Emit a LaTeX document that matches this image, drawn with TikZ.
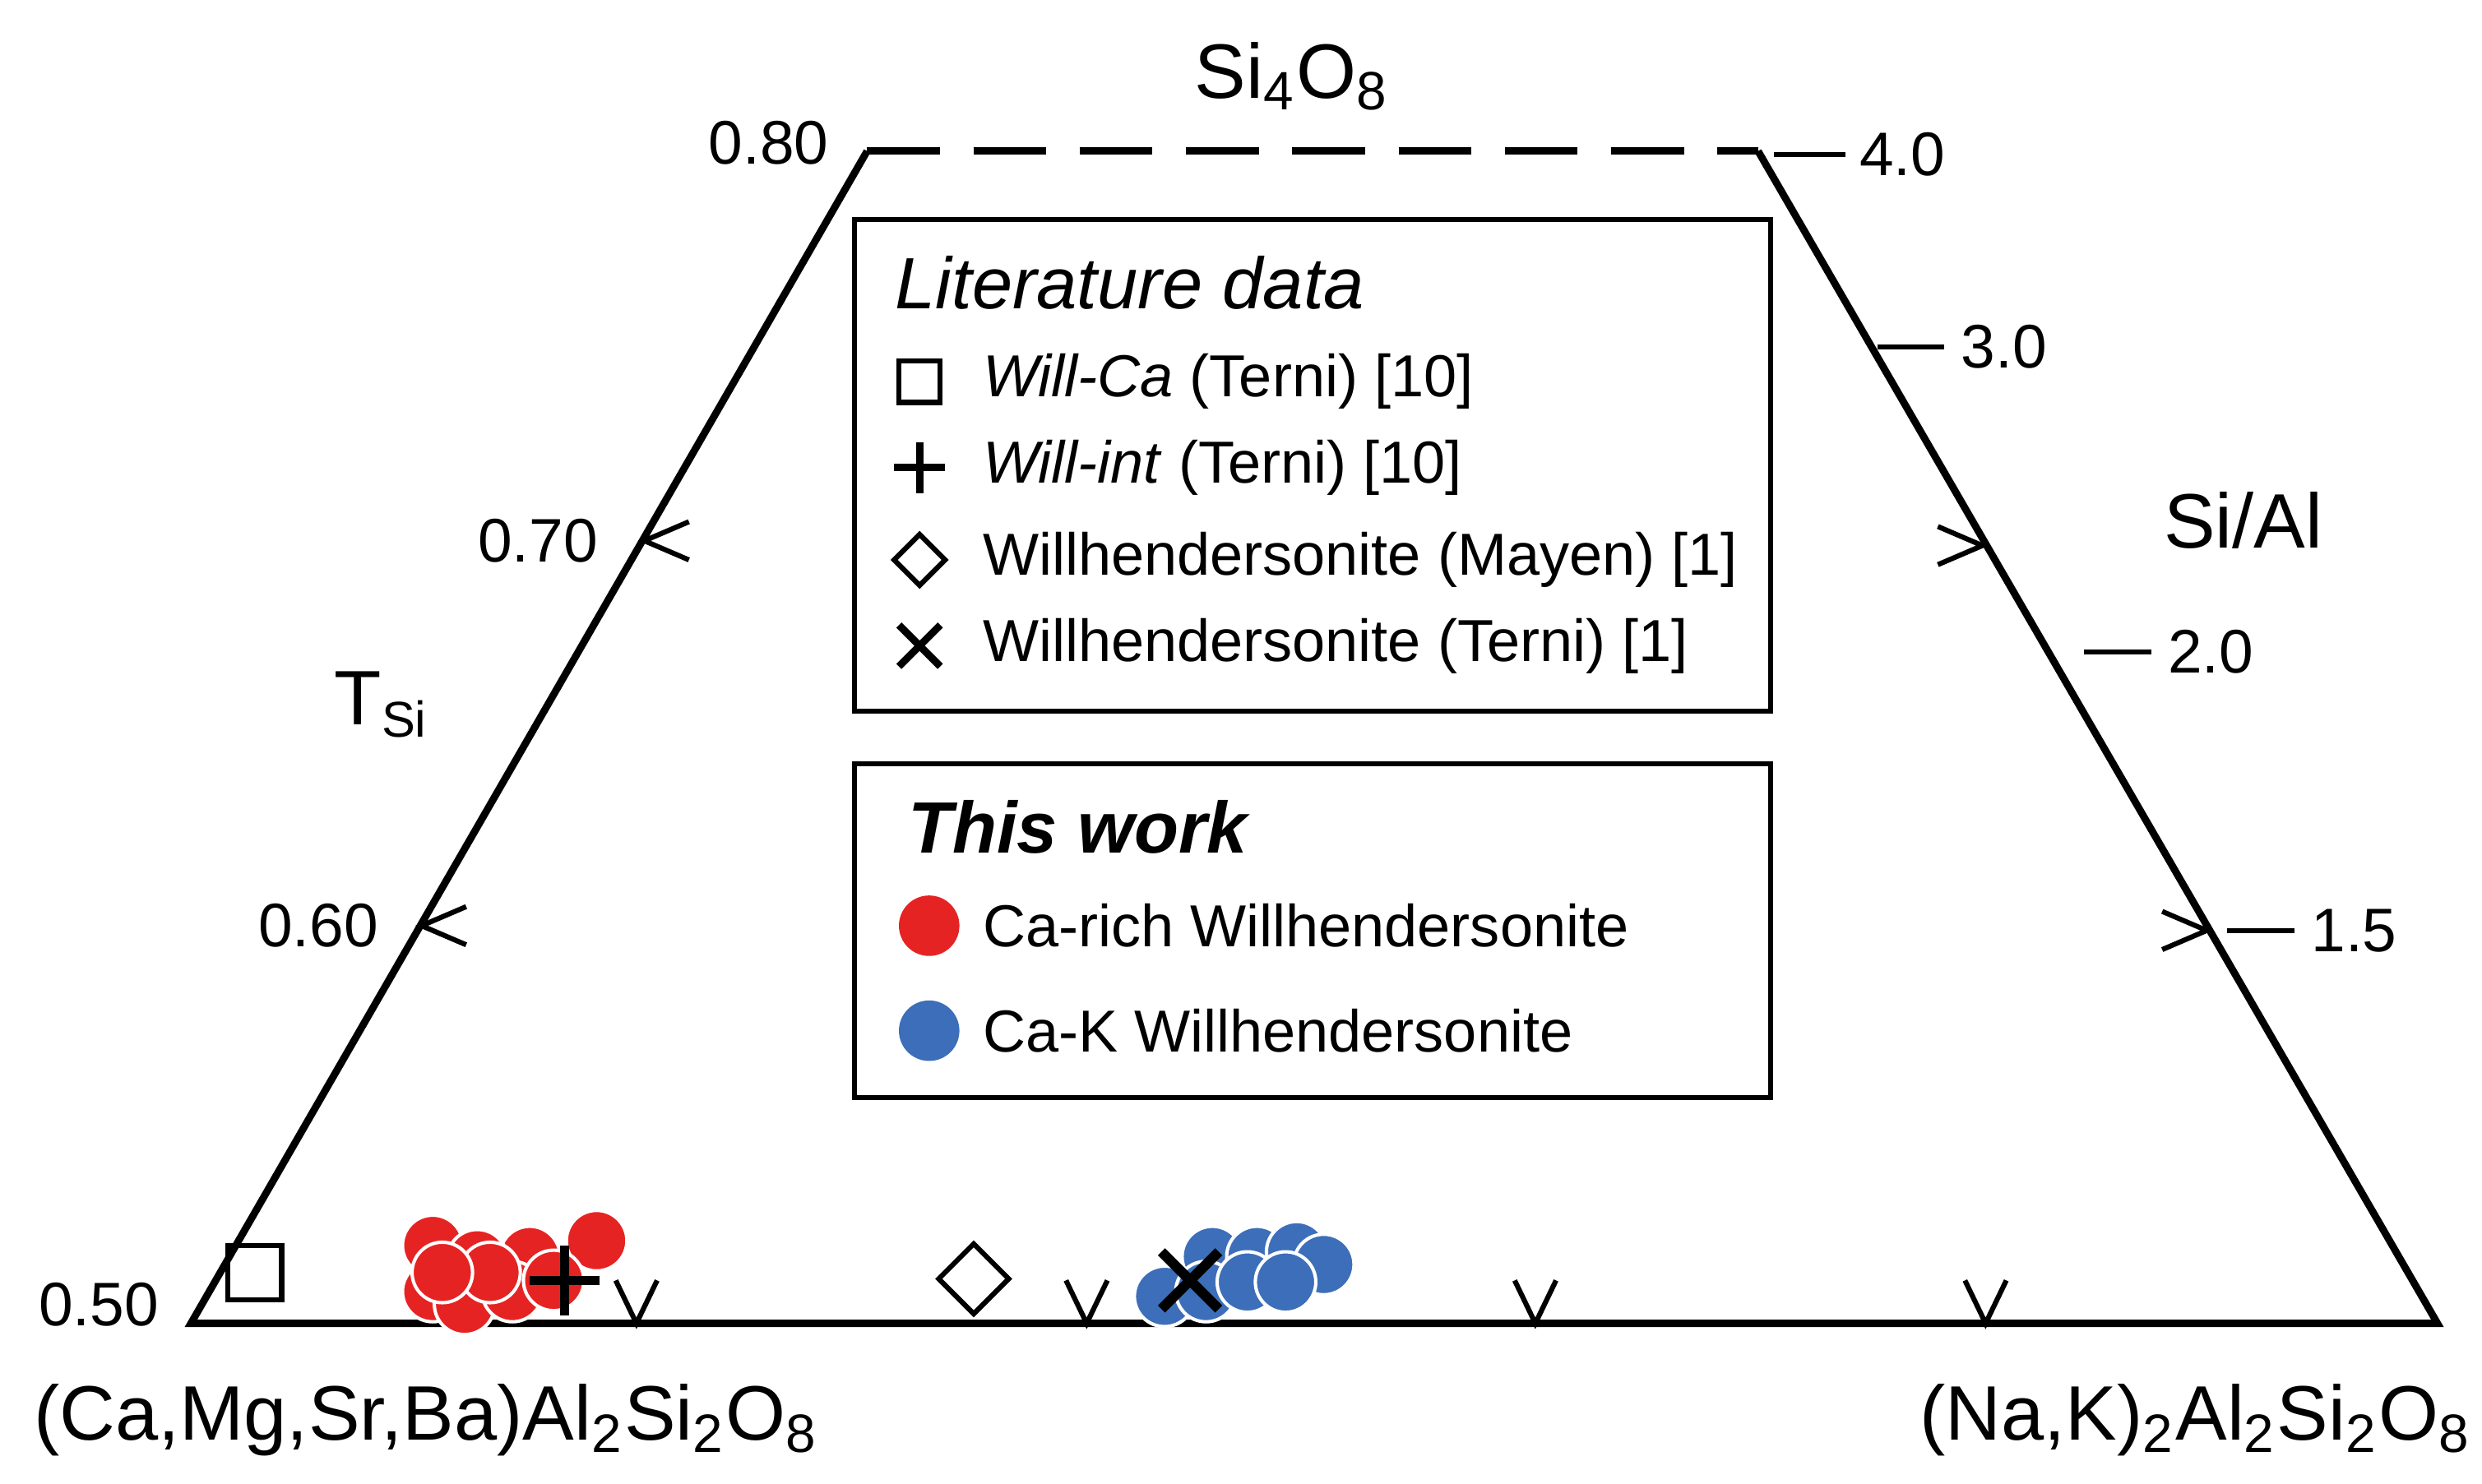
\documentclass[tikz,border=0pt]{standalone}
\usepackage{fontspec}
\setmainfont{Liberation Sans}
\begin{document}
\begin{tikzpicture}[x=0.01cm,y=-0.01cm,
 ln/.style={line width=1.3pt},
 tk/.style={line width=0.9pt},
 lg/.style={font=\fontsize{10.6pt}{13pt}\selectfont,anchor=west,inner sep=0},
 ax/.style={font=\fontsize{11pt}{13pt}\selectfont,inner sep=0},
 big/.style={font=\fontsize{13.8pt}{16pt}\selectfont,inner sep=0},
 red/.style={circle,fill={rgb,255:red,230;green,35;blue,35},draw=white,line width=0.6pt,minimum size=0.38cm,inner sep=0},
 blu/.style={circle,fill={rgb,255:red,60;green,110;blue,185},draw=white,line width=0.6pt,minimum size=0.38cm,inner sep=0}]
\useasboundingbox (0,0) rectangle (1560,933);
\coordinate (BL) at (120,832); \coordinate (BR) at (1532,832);
\coordinate (TL) at (545,95); \coordinate (TR) at (1105,95);
\draw[ln] (TL) -- (BL) -- (BR) -- (TR);
\draw[ln,dash pattern=on 13pt off 6pt] (TL) -- (TR);
\node[big] (top) at (812,48) {Si\textsubscript{4}O\textsubscript{8}};
\node[ax] (a80) at (483,90) {0.80};
\node[ax] (a70) at (338,340) {0.70};
\node[ax] (a60) at (200,582) {0.60};
\node[ax] (a50) at (62,820) {0.50};
\node[big] (tsi) at (240,443) {T\textsubscript{\fontsize{9pt}{10pt}\selectfont Si}};
\node[big] (sial) at (1410,327) {Si/Al};
% right ticks
\draw[tk] (1115,97) -- (1160,97); \node[ax,anchor=west] at (1168,97) {4.0};
\draw[tk] (1180,218) -- (1222,218); \node[ax,anchor=west] at (1232,218) {3.0};
\draw[tk] (1310,410) -- (1352,410); \node[ax,anchor=west] at (1362,410) {2.0};
\draw[tk] (1400,585) -- (1442,585); \node[ax,anchor=west] at (1452,585) {1.5};
% chevrons
\foreach \x/\y in {405/340,265/582} \draw[tk] (\x+28,\y-12) -- (\x,\y) -- (\x+28,\y+12);
\foreach \x/\y in {1246/343,1387/585} \draw[tk] (\x-28,\y-12) -- (\x,\y) -- (\x-28,\y+12);
\foreach \x in {400,683,965,1248} \draw[tk] (\x-13,805) -- (\x,832) -- (\x+13,805);
\node[big] (l1) at (268,893) {(Ca,Mg,Sr,Ba)Al\textsubscript{2}Si\textsubscript{2}O\textsubscript{8}};
\node[big] (l2) at (1380,893) {(Na,K)\textsubscript{2}Al\textsubscript{2}Si\textsubscript{2}O\textsubscript{8}};
% legend boxes
\draw[tk] (537,138) rectangle (1113,447);
\node[lg,font=\fontsize{13pt}{15pt}\selectfont\itshape] at (562,178) {Literature data};
\node[draw,tk,minimum size=0.26cm,inner sep=0] at (578,240) {};
\node[lg] at (617,240) {\textit{Will-Ca} (Terni) [10]};
\draw[tk,line width=1.3pt] (562,294) -- (594,294) (578,278) -- (578,310);
\node[lg] at (617,294) {\textit{Will-int} (Terni) [10]};
\draw[tk] (578,336) -- (594,352) -- (578,368) -- (562,352) -- cycle;
\node[lg] at (617,352) {Willhendersonite (Mayen) [1]};
\draw[tk,line width=1.3pt] (565,393) -- (591,419) (565,419) -- (591,393);
\node[lg] at (617,406) {Willhendersonite (Terni) [1]};
\draw[tk] (537,480) rectangle (1113,690);
\node[lg,font=\fontsize{13pt}{15pt}\selectfont\bfseries\itshape] at (570,520) {This work};
\node[red,draw=none] at (584,582) {};
\node[lg] at (617,582) {Ca-rich Willhendersonite};
\node[blu,draw=none] at (584,648) {};
\node[lg] at (617,648) {Ca-K Willhendersonite};
% data
\node[draw,tk,minimum size=0.34cm,inner sep=0] at (160,800) {};
\foreach \x/\y in {272/783,375/780,333/790,300/792,272/812,292/820,322/812,348/805,308/800,278/800}
  \node[red] at (\x,\y) {};
\draw[line width=1.6pt] (333,805) -- (377,805) (355,783) -- (355,827);
\draw[tk] (612,782) -- (634,804) -- (612,826) -- (590,804) -- cycle;
\foreach \x/\y in {732/815,762/790,790/790,815/787,832/795,758/812,784/806,808/806}
  \node[blu] at (\x,\y) {};
\draw[line width=1.8pt] (730,787) -- (766,823) (730,823) -- (766,787);
\end{tikzpicture}
\end{document}
